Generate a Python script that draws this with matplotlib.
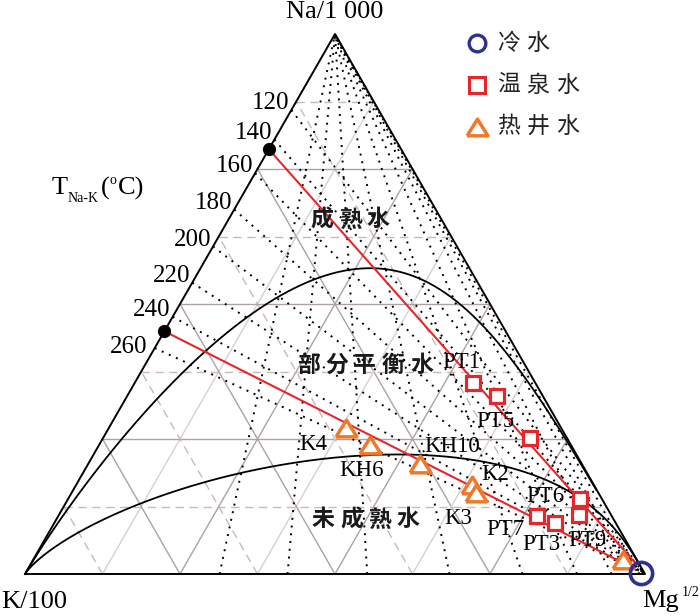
import numpy as np
import matplotlib
matplotlib.use("Agg")
import matplotlib.pyplot as plt

# ---------------- data (ternary fractions: Na/1000, K/100, Mg^1/2) ----------------
spring_labels = ["PT1", "", "PT5", "PT6", "PT9", "PT7", "PT3"]
spring_na = [0.354, 0.330, 0.252, 0.138, 0.109, 0.107, 0.095]
spring_k  = [0.100, 0.073, 0.060, 0.036, 0.052, 0.121, 0.098]
spring_mg = [0.546, 0.597, 0.688, 0.826, 0.839, 0.772, 0.807]

well_labels = ["K4", "KH6", "KH10", "K2", "K3", ""]
well_na = [0.270, 0.238, 0.203, 0.164, 0.150, 0.026]
well_k  = [0.348, 0.324, 0.261, 0.197, 0.198, 0.023]
well_mg = [0.382, 0.438, 0.536, 0.639, 0.652, 0.951]

cold_na = [0.002]
cold_k  = [0.006]
cold_mg = [0.992]

# Na-K temperatures where the mixing lines cut the Na-K axis (black dots)
intercept_T = [146, 249]
# isotherms
nak_T = [120, 140, 160, 180, 200, 220, 240, 260]
kmg_T = [200, 180, 160, 140, 120, 100, 80, 60, 40]
maturity_part = 2.00   # partial equilibrium boundary (Giggenbach)

# ---------------- helpers ----------------
def nak(T):
    return 10 ** (1390.0 / (np.asarray(T, float) + 273.15) - 1.75)

def kmg(T):
    return 10 ** (14.0 - 4410.0 / (np.asarray(T, float) + 273.15))

def xy(na, k, mg):
    na, k, mg = np.asarray(na, float), np.asarray(k, float), np.asarray(mg, float)
    s = na + k + mg
    na, mg = na / s, mg / s
    return mg + na / 2.0, na

def nak_axis_point(T):
    r = nak(T) / 10.0
    na = r / (1 + r)
    return na, 1 - na, 0.0

def kmg_axis_point(T):
    r = np.sqrt(kmg(T)) / 100.0
    k = r / (1 + r)
    return 0.0, k, 1 - k

# ---------------- figure ----------------
W, H = 700, 616
fig = plt.figure(figsize=(W / 100, H / 100), dpi=100)
ax = fig.add_axes([25 / W, (H - 574) / H, 620 / W, 540 / H])
ax.set_xlim(0, 1)
ax.set_ylim(0, 1)
ax.axis("off")

ov = fig.add_axes([0, 0, 1, 1], zorder=5)
ov.set_xlim(0, W)
ov.set_ylim(H, 0)
ov.axis("off")
ov.patch.set_alpha(0)

serif = "Liberation Serif"
cjk = ["Noto Sans CJK SC", "DejaVu Sans"]

solid_c = "#ada2a2"
light_c = "#d6d0d0"
dash_c = "#c8b9b9"

# grid
for i in range(1, 8):
    f = i / 8
    even = (i % 2 == 0)
    # constant Na (horizontal)
    x0, y0 = xy(f, 1 - f, 0)
    x1, y1 = xy(f, 0, 1 - f)
    if even:
        ax.plot([x0, x1], [y0, y1], color=solid_c, lw=1.0, zorder=1)
    else:
        ax.plot([x0, x1], [y0, y1], color=dash_c, lw=1.0, ls=(0, (6, 4)), zorder=1)
    # constant K
    x0, y0 = xy(0, f, 1 - f)
    x1, y1 = xy(1 - f, f, 0)
    if even:
        ax.plot([x0, x1], [y0, y1], color=solid_c, lw=1.0, zorder=1)
    else:
        ax.plot([x0, x1], [y0, y1], color=dash_c, lw=1.0, ls=(0, (6, 4)), zorder=1)
    # constant Mg
    x0, y0 = xy(0, 1 - f, f)
    x1, y1 = xy(1 - f, 0, f)
    ax.plot([x0, x1], [y0, y1], color=solid_c if even else light_c, lw=1.0, zorder=1)

# isotherms (dotted)
for T in nak_T:
    x0, y0 = xy(*nak_axis_point(T))
    x1, y1 = xy(0, 0, 1)
    ax.plot([x0, x1], [y0, y1], color="black", lw=1.4, ls=(0, (1, 3.0)), zorder=2)
for T in kmg_T:
    x0, y0 = xy(*kmg_axis_point(T))
    x1, y1 = xy(1, 0, 0)
    ax.plot([x0, x1], [y0, y1], color="black", lw=1.4, ls=(0, (1, 3.0)), zorder=2)

# full equilibrium curve
Tc = np.concatenate([np.linspace(0, 400, 600), np.linspace(400, 6000, 600)])
b_c = np.sqrt(kmg(Tc)) / 100.0
a_b = nak(Tc) / 10.0
xf, yf = xy(a_b * b_c, b_c, np.ones_like(Tc))
ax.plot(xf, yf, color="black", lw=1.3, zorder=3)

# partial equilibrium curve
logR = np.linspace(-4, 15, 1200)
b_c = np.sqrt(10 ** logR) / 100.0
a_b = 10 ** (maturity_part - 0.315 * logR) / 10.0
xp, yp = xy(a_b * b_c, b_c, np.ones_like(logR))
ax.plot(xp, yp, color="black", lw=1.3, zorder=3)

# triangle frame
tx, ty = xy([0, 0, 1, 0], [1, 0, 0, 1], [0, 1, 0, 0])
ax.plot(tx, ty, color="black", lw=1.4, zorder=4, clip_on=False)

# mixing lines from axis intercept toward Mg vertex
for T in intercept_T:
    na0, k0, m0 = nak_axis_point(T)
    t = 1 - 0.02 / na0
    x0, y0 = xy(na0, k0, m0)
    x1, y1 = xy(na0 * (1 - t), k0 * (1 - t), t)
    ax.plot([x0, x1], [y0, y1], color="#e8262a", lw=1.5, zorder=5)
    ax.plot([x0], [y0], "o", color="black", ms=8.5, zorder=6, clip_on=False)

tri = [(-1, -0.8), (1, -0.8), (0, 0.8), (-1, -0.8)]
red = "#e5262b"
orange = "#f0782a"
blue = "#2e3192"

x, y = xy(spring_na, spring_k, spring_mg)
ax.plot(x, y, ls="none", marker="s", ms=10.5, mfc="white", mec=red, mew=2.3, zorder=7)
x, y = xy(well_na, well_k, well_mg)
ax.plot(x, y, ls="none", marker=tri, ms=15, mfc="white", mec=orange, mew=2.5, zorder=8)
x, y = xy(cold_na, cold_k, cold_mg)
ax.plot(x, y, ls="none", marker="o", ms=16, mfc="none", mec=blue, mew=2.6, zorder=9, clip_on=False)

# tick labels of Na-K isotherms
tick_off = {260: (-7, 1)}
for T in nak_T:
    x0, y0 = xy(*nak_axis_point(T))
    dx, dy = tick_off.get(T, (-2, 7))
    ax.annotate(str(T), (x0, y0), xytext=(dx * 0.72, dy * 0.72), textcoords="offset points",
                ha="right", va="center", fontsize=18, family=serif, annotation_clip=False)

# point labels (pixel positions)
pt_labels = [("PT1", 461.7, 363), ("PT5", 495, 421.7), ("PT6", 545, 496), ("PT7", 505.7, 529.3),
             ("PT3", 541.7, 545), ("PT9", 587.3, 540), ("K4", 313.3, 444), ("KH6", 361.3, 470.7),
             ("KH10", 452.3, 446.7), ("K2", 495, 474), ("K3", 458.3, 518.3)]
for s, px, py in pt_labels:
    ov.text(px, py, s, ha="center", va="center", fontsize=16.5, family=serif, zorder=10)

# axis labels
ov.text(335, 12, "Na/1 000", ha="center", va="center", fontsize=19, family=serif)
ov.text(34, 602, "K/100", ha="center", va="center", fontsize=19, family=serif)
ov.text(642, 601, "Mg", ha="left", va="center", fontsize=19, family=serif)
ov.text(682, 592, "1/2", ha="left", va="center", fontsize=10, family=serif)
ov.text(52, 188, "T", ha="left", va="center", fontsize=19, family=serif)
ov.text(68, 198, "Na-K", ha="left", va="center", fontsize=10, family=serif)
ov.text(101, 188, "(", ha="left", va="center", fontsize=19, family=serif)
ov.text(110, 181, "o", ha="left", va="center", fontsize=10, family=serif)
ov.text(118, 188, "C)", ha="left", va="center", fontsize=19, family=serif)

def spaced(x0, y0, s, step, size, weight="normal", color="black"):
    for i, ch in enumerate(s):
        ov.text(x0 + i * step, y0, ch, ha="center", va="center", fontsize=size,
                family=cjk, weight=weight, color=color, zorder=10)

spaced(321.7, 220, "成熟水", 28.3, 16.5, "bold", "#1a1a1a")
spaced(308.3, 365, "部分平衡水", 28.3, 16.5, "bold", "#1a1a1a")
spaced(323.3, 520, "未成熟水", 28.3, 16.5, "bold", "#1a1a1a")

# legend
ov.plot(476.7, 43.3, "o", ms=12, mfc="none", mec=blue, mew=2.4)
ov.plot(476.7, 85, "s", ms=11, mfc="none", mec=red, mew=2.2)
ov.plot(476.7, 126.5, marker=tri, ms=15, mfc="none", mec=orange, mew=2.5)
spaced(508.3, 43.3, "冷水", 29.5, 16.5, color="#222222")
spaced(508.3, 85, "温泉水", 29.5, 16.5, color="#222222")
spaced(508.3, 126.5, "热井水", 29.5, 16.5, color="#222222")

fig.savefig("out.png", dpi=100)
